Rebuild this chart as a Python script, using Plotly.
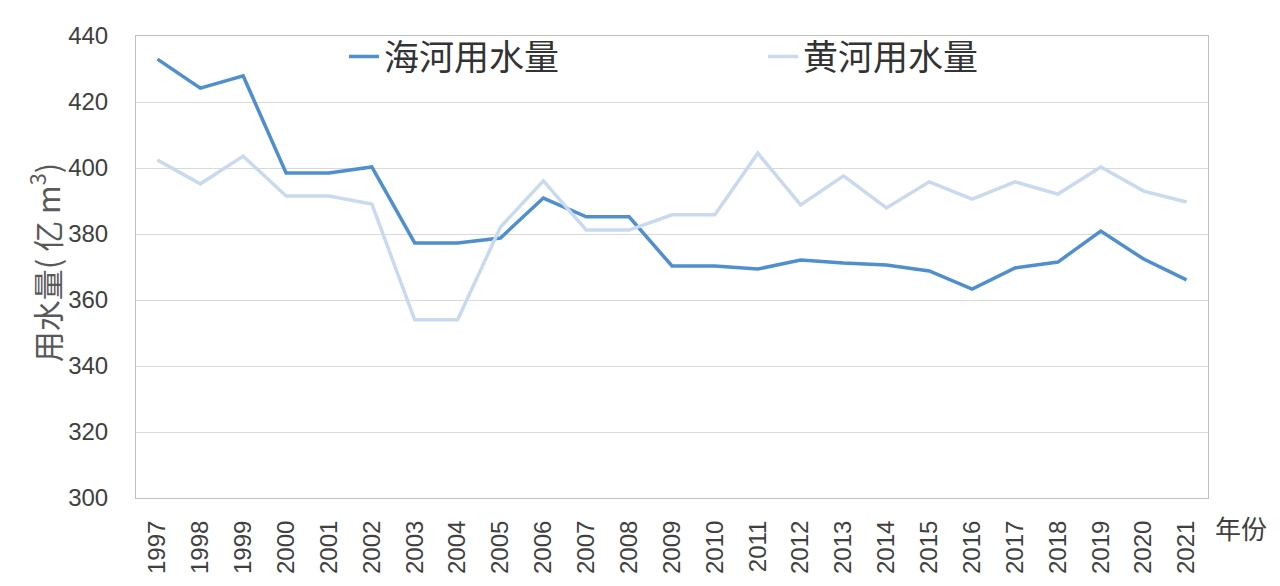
import plotly.graph_objects as go

years = [str(y) for y in range(1997, 2022)]
haihe = [433.0, 424.2, 427.9, 398.5, 398.5, 400.3, 377.3, 377.3, 378.8, 390.9,
         385.2, 385.2, 370.3, 370.3, 369.4, 372.1, 371.2, 370.6, 368.8, 363.3,
         369.7, 371.5, 380.9, 372.4, 366.1]
huanghe = [402.4, 395.2, 403.6, 391.5, 391.5, 389.1, 354.0, 354.0, 382.1, 396.1,
           381.2, 381.2, 385.8, 385.8, 404.5, 388.8, 397.6, 387.9, 395.8, 390.6,
           395.8, 392.1, 400.3, 393.0, 389.7]
series_names = ["海河用水量", "黄河用水量"]
y_ticks = [300, 320, 340, 360, 380, 400, 420, 440]

FONT = "Liberation Sans, Noto Sans CJK SC, sans-serif"
TXT = "#404040"
LEGFONT = dict(size=35, family="Noto Sans CJK SC, sans-serif", color="#333333")

fig = go.Figure()
fig.add_trace(go.Scatter(x=years, y=haihe, mode="lines", name=series_names[0],
                         line=dict(color="#4F8FCD", width=3.5), legend="legend"))
fig.add_trace(go.Scatter(x=years, y=huanghe, mode="lines", name=series_names[1],
                         line=dict(color="#C9DAEF", width=3.5), legend="legend2"))

fig.update_layout(
    width=1280, height=586,
    margin=dict(l=136, r=72, t=36, b=88),
    paper_bgcolor="white", plot_bgcolor="white",
    font=dict(family=FONT, color=TXT, size=24),
    showlegend=True,
    legend=dict(orientation="h", x=0.194, xanchor="left", y=0.955, yanchor="middle",
                font=LEGFONT, itemwidth=30, bgcolor="rgba(0,0,0,0)"),
    legend2=dict(orientation="h", x=0.585, xanchor="left", y=0.955, yanchor="middle",
                 font=LEGFONT, itemwidth=30, bgcolor="rgba(0,0,0,0)"),
    xaxis=dict(type="category", tickangle=-90, showgrid=False, range=[-0.5, 24.5],
               showline=True, linecolor="#BFBFBF", mirror=True, linewidth=1,
               ticks="", tickfont=dict(size=24), ticklabelstandoff=12),
    yaxis=dict(range=[300, 440], tickvals=y_ticks, showgrid=True, gridcolor="#D9D9D9",
               showline=True, linecolor="#BFBFBF", mirror=True, linewidth=1,
               ticks="", tickfont=dict(size=24), ticklabelstandoff=22, zeroline=False),
)
fig.add_annotation(text="用水量( 亿 m<sup>3</sup>)", xref="paper", yref="paper",
                   x=-0.085, y=0.51, xanchor="center", yanchor="middle", textangle=-90,
                   showarrow=False,
                   font=dict(size=31, family="Noto Sans CJK SC, sans-serif", color="#595959"))
fig.add_annotation(text="年份", xref="paper", yref="paper", x=1.005, y=-0.02,
                   xanchor="left", yanchor="top", showarrow=False,
                   font=dict(size=26, family="Noto Sans CJK SC, sans-serif", color="#404040"))

fig.write_html("out.html")
